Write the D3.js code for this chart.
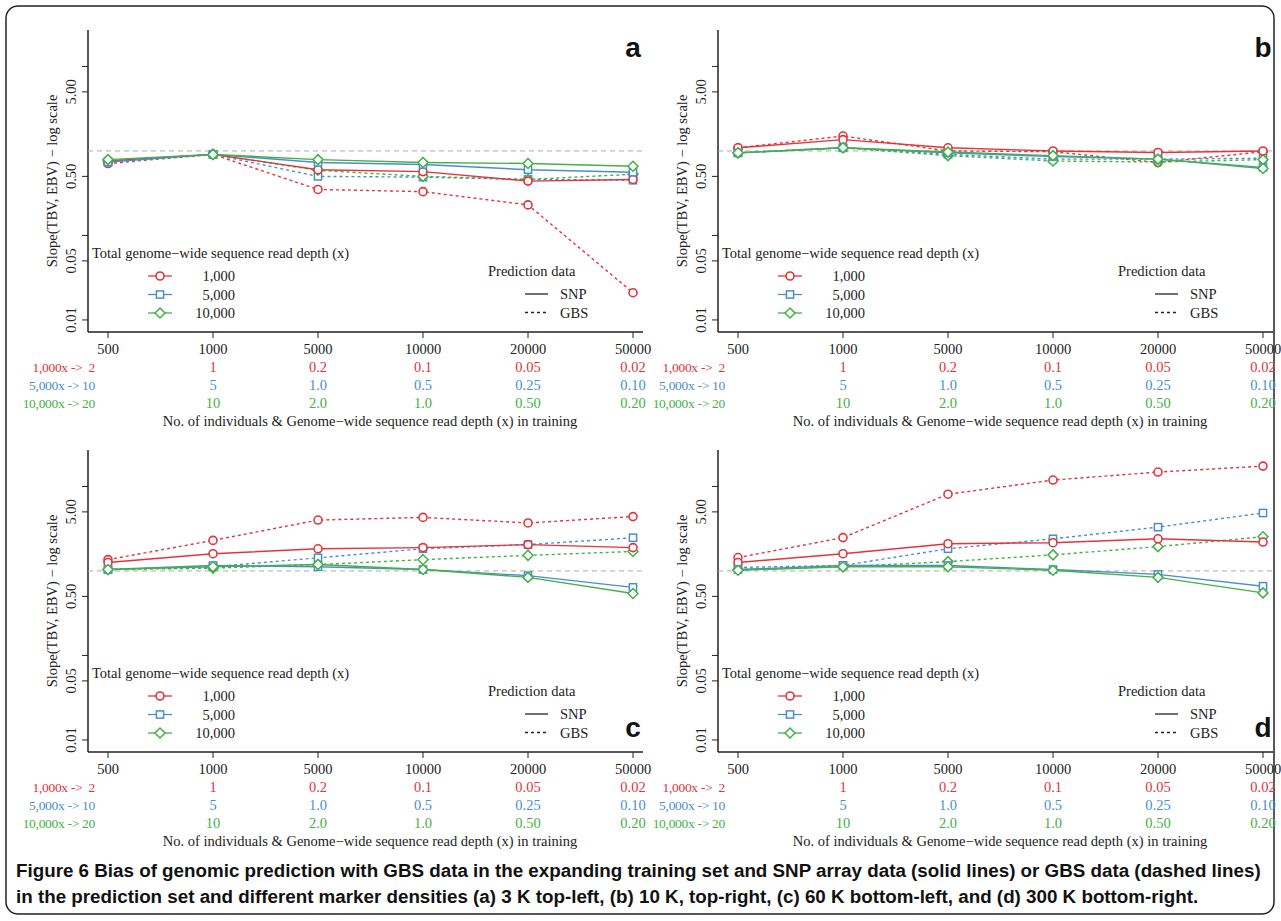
<!DOCTYPE html>
<html><head><meta charset="utf-8">
<script src="https://cdn.jsdelivr.net/npm/d3@7"></script>
<style>body{margin:0;background:#fff}svg{display:block}</style>
</head><body><svg id="c" width="1281" height="921"></svg>
<script>
const xCats = ["500","1000","5000","10000","20000","50000"];
const row1 = ["1","0.2","0.1","0.05","0.02"];
const row2 = ["5","1.0","0.5","0.25","0.10"];
const row3 = ["10","2.0","1.0","0.50","0.20"];
const rowLead = ["1,000x ->  2","5,000x -> 10","10,000x -> 20"];
const yTicks = [0.01,0.05,0.1,0.5,5,10];
const yLabels = {0.01:"0.01",0.05:"0.05",0.5:"0.50",5:"5.00"};
const depthNames = ["1,000","5,000","10,000"];
// panel a
const aSNP = [[0.76,0.91,0.60,0.57,0.44,0.46],[0.74,0.91,0.73,0.69,0.60,0.56],[0.79,0.91,0.79,0.73,0.71,0.66]];
const aGBS = [[0.71,0.91,0.35,0.33,0.23,0.021],[0.74,0.91,0.50,0.49,0.46,0.45],[0.76,0.91,0.59,0.50,0.46,0.53]];
// panel b
const bSNP = [[1.09,1.36,1.09,1.0,0.96,1.0],[0.95,1.09,0.95,0.86,0.80,0.64],[0.95,1.09,0.97,0.88,0.80,0.62]];
const bGBS = [[1.09,1.5,1.0,0.98,0.73,0.98],[0.95,1.09,0.91,0.80,0.80,0.82],[0.95,1.09,0.88,0.76,0.74,0.79]];
// panel c
const cSNP = [[1.26,1.6,1.83,1.89,2.05,1.89],[1.04,1.16,1.12,1.04,0.88,0.64],[1.04,1.12,1.19,1.04,0.84,0.54]];
const cGBS = [[1.36,2.3,4.0,4.3,3.7,4.4],[1.04,1.12,1.43,1.83,2.05,2.47],[1.04,1.08,1.19,1.36,1.53,1.7]];
// panel d
const dSNP = [[1.26,1.6,2.1,2.16,2.4,2.2],[1.04,1.16,1.16,1.04,0.91,0.66],[1.02,1.12,1.12,1.02,0.84,0.55]];
const dGBS = [[1.44,2.48,8.1,11.9,14.8,17.4],[1.1,1.16,1.83,2.4,3.3,4.85],[1.04,1.12,1.29,1.55,1.94,2.54]];

const colors = ["#e2343c","#4a8fcc","#45b045"];
const svg = d3.select("#c");
const serif = "Liberation Serif, DejaVu Serif, serif";
const FS = 14.5;

svg.append("rect").attr("x",6).attr("y",6).attr("width",1268).attr("height",908).attr("rx",12)
  .attr("fill","none").attr("stroke","#222").attr("stroke-width",1.5);

function marker(g,k,x,y,col){
  if(k===0) g.append("circle").attr("cx",x).attr("cy",y).attr("r",4).attr("fill","#fff").attr("stroke",col).attr("stroke-width",1.6);
  else if(k===1) g.append("rect").attr("x",x-3.6).attr("y",y-3.6).attr("width",7.2).attr("height",7.2).attr("fill","#fff").attr("stroke",col).attr("stroke-width",1.5);
  else g.append("path").attr("d",`M${x},${y-5}L${x+5},${y}L${x},${y+5}L${x-5},${y}Z`).attr("fill","#fff").attr("stroke",col).attr("stroke-width",1.5);
}

function panel(ox,oy,snp,gbs,letter,letterBottom){
  const g = svg.append("g").attr("transform",`translate(${ox},${oy})`);
  const x = d3.scalePoint().domain(xCats).range([20,545]);
  const y = d3.scaleLog().domain([0.0072,27]).range([302,0]);
  g.append("line").attr("x1",0).attr("x2",0).attr("y1",0).attr("y2",302).attr("stroke","#222").attr("stroke-width",1.5);
  g.append("line").attr("x1",0).attr("x2",555).attr("y1",302).attr("y2",302).attr("stroke","#222").attr("stroke-width",1.5);
  yTicks.forEach(t=>{
    g.append("line").attr("x1",-6).attr("x2",0).attr("y1",y(t)).attr("y2",y(t)).attr("stroke","#222");
    if(yLabels[t]) g.append("text").attr("transform",`translate(-12,${y(t)}) rotate(-90)`).attr("text-anchor","middle")
      .attr("font-family",serif).attr("font-size",FS).attr("fill","#222").text(yLabels[t]);
  });
  g.append("text").attr("transform",`translate(-31,151) rotate(-90)`).attr("text-anchor","middle")
    .attr("font-family",serif).attr("font-size",FS).attr("fill","#222").text("Slope(TBV, EBV) \u2212 log scale");
  g.append("line").attr("x1",0).attr("x2",555).attr("y1",y(1)).attr("y2",y(1)).attr("stroke","#aaa").attr("stroke-dasharray","5,4");
  xCats.forEach(c=>g.append("line").attr("x1",x(c)).attr("x2",x(c)).attr("y1",302).attr("y2",308).attr("stroke","#222"));
  const line = d3.line().x((d,i)=>x(xCats[i])).y(d=>y(d));
  [gbs,snp].forEach((set,si)=>{
    set.forEach((vals,k)=>{
      g.append("path").attr("d",line(vals)).attr("fill","none").attr("stroke",colors[k]).attr("stroke-width",1.4)
        .attr("stroke-dasharray",si===0?"3,3":null);
    });
  });
  [gbs,snp].forEach(set=>set.forEach((vals,k)=>vals.forEach((v,i)=>marker(g,k,x(xCats[i]),y(v),colors[k]))));
  xCats.forEach((c,i)=>{
    g.append("text").attr("x",x(c)).attr("y",324).attr("text-anchor","middle").attr("font-family",serif).attr("font-size",FS).attr("fill","#222").text(c);
    if(i>0){
      [row1,row2,row3].forEach((r,ri)=>g.append("text").attr("x",x(c)).attr("y",342+ri*18).attr("text-anchor","middle")
        .attr("font-family",serif).attr("font-size",FS).attr("fill",colors[ri]).text(r[i-1]));
    }
  });
  rowLead.forEach((t,ri)=>g.append("text").attr("x",7).attr("y",342+ri*18).attr("text-anchor","end")
    .attr("font-family",serif).attr("font-size",13.5).attr("letter-spacing",-0.3).attr("fill",colors[ri]).attr("xml:space","preserve").text(t));
  g.append("text").attr("x",282).attr("y",396).attr("text-anchor","middle").attr("font-family",serif).attr("font-size",FS).attr("fill","#222")
    .text("No. of individuals & Genome\u2212wide sequence read depth (x) in training");
  g.append("text").attr("x",4).attr("y",228).attr("font-family",serif).attr("font-size",FS).attr("fill","#222").text("Total genome\u2212wide sequence read depth (x)");
  depthNames.forEach((n,k)=>{
    const yy = 246+k*18.5;
    g.append("line").attr("x1",60).attr("x2",84).attr("y1",yy).attr("y2",yy).attr("stroke",colors[k]).attr("stroke-width",1.3);
    marker(g,k,72,yy,colors[k]);
    g.append("text").attr("x",147).attr("y",yy+5).attr("text-anchor","end").attr("font-family",serif).attr("font-size",FS).attr("fill","#222").text(n);
  });
  g.append("text").attr("x",400).attr("y",246).attr("font-family",serif).attr("font-size",FS).attr("fill","#222").text("Prediction data");
  [["SNP",null],["GBS","3,3"]].forEach((p,i)=>{
    const yy = 264+i*18.5;
    g.append("line").attr("x1",437).attr("x2",460).attr("y1",yy).attr("y2",yy).attr("stroke","#222").attr("stroke-width",1.3).attr("stroke-dasharray",p[1]);
    g.append("text").attr("x",472).attr("y",yy+5).attr("font-family",serif).attr("font-size",FS).attr("fill","#222").text(p[0]);
  });
  g.append("text").attr("x",545).attr("y",letterBottom?287:27).attr("text-anchor","middle").attr("font-family","Liberation Sans, Arial, sans-serif")
    .attr("font-weight","bold").attr("font-size",28).attr("fill","#111").text(letter);
}
panel(88,30,aSNP,aGBS,"a",false);
panel(718,30,bSNP,bGBS,"b",false);
panel(88,450,cSNP,cGBS,"c",true);
panel(718,450,dSNP,dGBS,"d",true);

const cap = svg.append("text").attr("font-family","Liberation Sans, Arial, sans-serif").attr("font-size",18.8).attr("font-weight","bold").attr("fill","#111");
cap.append("tspan").attr("x",16).attr("y",877).text("Figure 6 Bias of genomic prediction with GBS data in the expanding training set and SNP array data (solid lines) or GBS data (dashed lines)");
cap.append("tspan").attr("x",16).attr("y",903).text("in the prediction set and different marker densities (a) 3 K top-left, (b) 10 K, top-right, (c) 60 K bottom-left, and (d) 300 K bottom-right.");
</script></body></html>
